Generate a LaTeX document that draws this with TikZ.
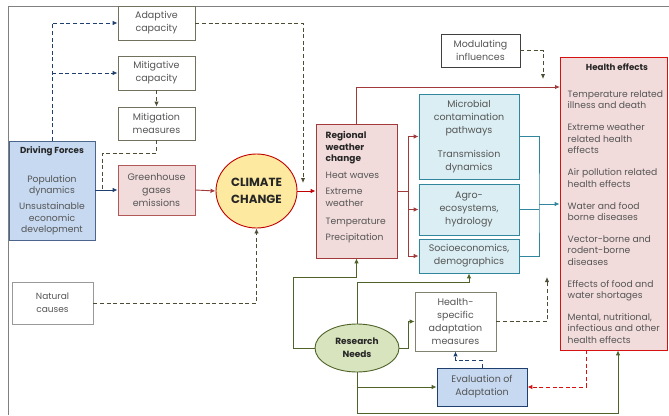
\documentclass[tikz,border=0pt]{standalone}
\usepackage{fontspec}
\setmainfont{Poppins}
\usetikzlibrary{arrows.meta,calc,shapes.geometric}
\newcommand\myfs{\fontsize{9.5}{12.9}\selectfont}
\newcommand\myfsb{\fontsize{9.2}{11.35}\selectfont}
\newcommand\myfst{\fontsize{8.7}{11.3}\selectfont}
\definecolor{txt}{HTML}{555555}
\definecolor{txtb}{HTML}{262626}
\definecolor{navyc}{HTML}{1F3F6E}
\definecolor{olivec}{HTML}{4D4D36}
\definecolor{redbc}{HTML}{A33A3A}
\definecolor{redc}{HTML}{C00000}
\definecolor{redd}{HTML}{D81010}
\definecolor{tealc}{HTML}{31859C}
\definecolor{greenc}{HTML}{4F6228}
\definecolor{pinkf}{HTML}{F2DCDB}
\definecolor{bluef}{HTML}{C6D9F1}
\definecolor{cyanf}{HTML}{DAEEF3}
\definecolor{yelf}{HTML}{FDE9A0}
\definecolor{greenf}{HTML}{D7E4BD}
\tikzset{
  box/.style={draw, rectangle, inner sep=1pt, align=center, text=txt, font=\myfs, line width=0.8pt},
  wbox/.style={box, draw=olivec!80},
  pbox/.style={box, fill=pinkf},
  cbox/.style={box, fill=cyanf, draw=tealc},
  arr/.style={-{Latex[length=5pt,width=4.5pt]}, line width=0.9pt},
  dsh/.style={dash pattern=on 4pt off 2.6pt, line width=0.9pt},
  navyd/.style={dsh, draw=navyc, color=navyc},
  olived/.style={dsh, draw=olivec, color=olivec},
  reds/.style={line width=0.9pt, color=redbc},
  greens/.style={line width=0.9pt, color=greenc},
  teals/.style={line width=0.9pt, color=tealc},
}
\begin{document}
\begin{tikzpicture}[x=1pt,y=-1pt]
\useasboundingbox (0,0) rectangle (669,415);
\draw[gray, line width=0.8pt] (669,6) -- (8,6) -- (8,415);

% nodes
\node[wbox, minimum width=77pt, minimum height=34pt] (adapt) at (156.5,23) {Adaptive\\capacity};
\node[wbox, minimum width=77pt, minimum height=34pt] (mitcap) at (156.5,73) {Mitigative\\capacity};
\node[wbox, minimum width=77pt, minimum height=33pt] (mitmeas) at (156.5,123.5) {Mitigation\\measures};
\node[box, fill=bluef, draw=navyc!80, minimum width=86pt, minimum height=99pt] (drive) at (52,190.5) {};
\node[font=\bfseries\myfst, text=txtb] at (52,151.5) {Driving Forces};
\node[align=center, text=txt, font=\myfsb, anchor=north] at (52,171.5) {Population\\dynamics\\[5pt]Unsustainable\\economic\\development};
\node[pbox, draw=redbc!85, minimum width=77pt, minimum height=50pt] (ghg) at (156.5,190) {Greenhouse\\gases\\emissions};
\node[ellipse, draw=redc, fill=yelf, line width=0.9pt, minimum width=81pt, minimum height=74pt, inner sep=0pt, align=center, text=txtb, font=\bfseries\fontsize{11.8}{16.5}\selectfont] (cc) at (256.5,191) {CLIMATE\\CHANGE};
\node[pbox, draw=redbc, minimum width=81pt, minimum height=134pt] (rwc) at (356.5,191) {};
\node[anchor=north west, inner sep=0pt, align=left, text=txt, font=\myfsb] at (325.5,131.5) {\textcolor{txtb}{\bfseries\fontsize{9}{11.3}\selectfont Regional}\\\textcolor{txtb}{\bfseries\fontsize{9}{11.3}\selectfont weather}\\\textcolor{txtb}{\bfseries\fontsize{9}{11.3}\selectfont change}\\[5.5pt]Heat waves\\[5pt]Extreme\\weather\\[6.5pt]Temperature\\[5.5pt]Precipitation};
\node[cbox, minimum width=100pt, minimum height=85pt] (micro) at (469,136.5) {Microbial\\contamination\\pathways\\[11pt]Transmission\\dynamics};
\node[cbox, minimum width=100pt, minimum height=51pt] (agro) at (469,209.5) {Agro-\\ecosystems,\\hydrology};
\node[cbox, minimum width=100pt, minimum height=34pt] (socio) at (469,256) {Socioeconomics,\\demographics};
\node[pbox, draw=redd, minimum width=107pt, minimum height=293pt] (he) at (613.5,203.5) {};
\node[font=\bfseries\myfst, text=txtb] at (617,67.5) {Health effects};
\node[anchor=north west, inner sep=0pt, align=left, text=txt, font=\myfsb] at (567.5,90.5) {Temperature related\\illness and death\\[10.7pt]Extreme weather\\related health\\effects\\[10.7pt]Air pollution related\\health effects\\[10.7pt]Water and food\\borne diseases\\[10.7pt]Vector-borne and\\rodent-borne\\diseases\\[10.7pt]Effects of food and\\water shortages\\[10.7pt]Mental, nutritional,\\infectious and other\\health effects};
\node[box, draw=black!75, minimum width=79pt, minimum height=33pt] (mod) at (480.5,50.5) {Modulating\\influences};
\node[box, draw=gray!80, minimum width=81pt, minimum height=42pt, font=\fontsize{9}{12.8}\selectfont] (nat) at (52.5,303) {Natural\\causes};
\node[ellipse, draw=greenc, fill=greenf, line width=0.9pt, minimum width=84pt, minimum height=48pt, inner sep=0pt, align=center, text=txtb, font=\bfseries\fontsize{9}{12.6}\selectfont] (rn) at (357,348) {Research\\Needs};
\node[wbox, draw=olivec!70, minimum width=81pt, minimum height=59pt] (hsam) at (455.5,321.5) {Health-\\specific\\adaptation\\measures};
\node[box, fill=bluef, draw=navyc, minimum width=90pt, minimum height=38pt] (eval) at (482,387) {Evaluation of\\Adaptation};

% coordinates
\coordinate (a2) at (303,183);
\coordinate (m2) at (102,190);
\coordinate (j1) at (408,191);
\coordinate (j2) at (539,209.5);
\coordinate (j3) at (539,204);
\coordinate (m3) at (543,79);
\coordinate (g1) at (293,277);
\coordinate (g2) at (357,282);
\coordinate (g3) at (408,348);
\coordinate (g4) at (618,413);
\coordinate (d3) at (547,277);
\coordinate (r1) at (586,387);
\coordinate (t1) at (560,87);

% connectors
\draw[navyd, arr] (drive.north) |- (adapt.west);
\draw[navyd, arr] (drive.north |- mitcap.west) -- (mitcap.west);
\draw[olived, arr] (adapt.east) -| (a2);
\draw[olived, arr] (mitcap.south) -- (mitmeas.north);
\draw[olived] (mitmeas.south) -- ++(0,13) -| (m2);
\draw[navyc, arr] (drive.east |- ghg.west) -- (ghg.west);
\draw[reds, arr] (ghg.east) -- (cc.west);
\draw[redc, arr] (cc.east) -- (rwc.west);
\draw[reds] (rwc.east) -- (j1);
\draw[reds, arr] (j1) |- (micro.west);
\draw[reds, arr] (j1) |- (agro.west);
\draw[reds, arr] (j1) |- (socio.west);
\draw[reds, arr] (rwc.north) |- (t1);
\draw[teals] (micro.east) -| (j2) |- (socio.east);
\draw[teals] (agro.east) -- (j2);
\draw[teals, arr] (j3) -- (he.west |- j3);
\draw[olived, arr] (mod.east) -| (m3);
\draw[olived, arr] (nat.east) -| (cc.south);
\draw[greens, arr] (rn.west) -| (g1) -| (rwc.south);
\draw[greens, arr] (rn.north) -- (g2) -| (socio.south);
\draw[greens, arr] (rn.east) -- (g3) |- (hsam.west);
\draw[greens, arr] (rn.south) |- (eval.west);
\draw[greens, arr] (rn.south) |- (g4) -- (he.south -| g4);
\draw[olived, arr] (hsam.east) -| (d3);
\draw[navyd, arr] (eval.north) |- ($(hsam.south)+(0,9)$) -- (hsam.south);
\draw[dsh, color=redd, arr] (he.south -| r1) |- (eval.east);
\end{tikzpicture}
\end{document}
